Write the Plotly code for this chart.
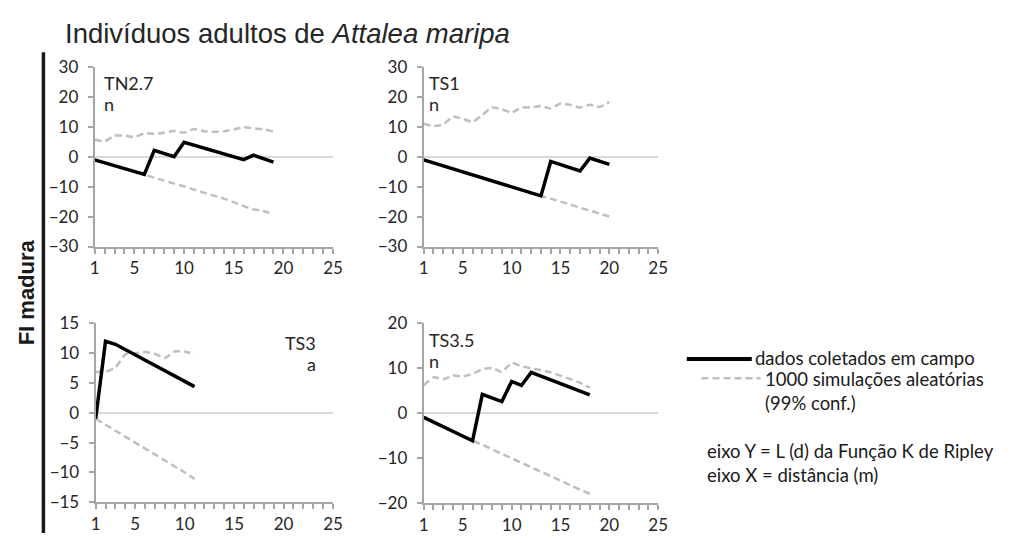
import plotly.graph_objects as go

W, H = 1013, 543

# ---- data: L(d) from Ripley's K, observed vs. 99% envelope of 1000 simulations ----
tn27_x = list(range(1, 20))
tn27_obs = [-1.1, -2.0, -3.0, -4.0, -5.0, -5.9, 2.1, 1.2, 0.0, 4.8, 3.8, 2.8, 1.8, 0.8, -0.1, -1.0, 0.5, -0.5, -1.8]
tn27_hi = [5.7, 5.1, 7.0, 7.0, 6.5, 7.8, 7.6, 8.0, 8.6, 8.0, 9.2, 8.5, 8.3, 8.5, 9.1, 9.8, 9.4, 9.1, 8.4]
tn27_lo = [-1.1, -2.0, -3.0, -4.0, -5.0, -6.0, -7.0, -8.0, -9.0, -9.9, -11.0, -12.0, -13.0, -14.0, -15.2, -16.5, -17.6, -18.2, -19.2]

ts1_x = list(range(1, 21))
ts1_obs = [-1.1, -2.1, -3.1, -4.1, -5.1, -6.1, -7.1, -8.1, -9.1, -10.1, -11.1, -12.1, -13.1, -1.6, -2.6, -3.6, -4.8, -0.5, -1.5, -2.6]
ts1_hi = [11.0, 10.2, 10.7, 13.4, 12.6, 11.6, 13.9, 16.4, 15.8, 14.7, 16.4, 16.4, 16.9, 16.1, 17.7, 17.3, 16.4, 17.3, 16.6, 18.3]
ts1_lo = [-1.1, -2.1, -3.1, -4.1, -5.1, -6.1, -7.1, -8.1, -9.1, -10.1, -11.1, -12.1, -13.1, -14.0, -15.0, -16.0, -17.0, -18.0, -19.0, -20.0]

ts3_x = list(range(1, 12))
ts3_obs = [-1.0, 12.0, 11.5, 10.6, 9.7, 8.8, 7.9, 7.0, 6.2, 5.3, 4.4]
ts3_hi = [6.9, 6.9, 7.6, 9.8, 10.0, 10.2, 9.9, 9.2, 10.3, 10.3, 9.8]
ts3_lo = [-1.0, -2.0, -3.0, -4.0, -5.0, -6.0, -7.0, -8.0, -9.0, -10.0, -11.1]

ts35_x = list(range(1, 19))
ts35_obs = [-0.9, -1.9, -3.0, -4.0, -5.1, -6.1, 4.2, 3.4, 2.6, 7.1, 6.2, 9.1, 8.3, 7.4, 6.6, 5.8, 4.9, 4.1]
ts35_hi = [6.2, 8.0, 7.6, 8.4, 8.2, 8.8, 9.8, 10.1, 9.2, 11.2, 10.5, 10.0, 9.6, 9.1, 8.4, 7.6, 6.8, 5.7]
ts35_lo = [-0.9, -1.9, -3.0, -4.0, -5.1, -6.1, -7.0, -8.0, -9.0, -10.0, -11.0, -12.0, -13.0, -14.0, -15.0, -16.0, -17.0, -17.9]

x_ticks = [1, 5, 10, 15, 20, 25]

panels = [
    # name, x, obs, hi, lo, y range, y step, label lines
    ("TN2.7", tn27_x, tn27_obs, tn27_hi, tn27_lo, (-30, 30), 10, ["TN2.7", "n"]),
    ("TS1", ts1_x, ts1_obs, ts1_hi, ts1_lo, (-30, 30), 10, ["TS1", "n"]),
    ("TS3", ts3_x, ts3_obs, ts3_hi, ts3_lo, (-15, 15), 5, ["TS3", "a"]),
    ("TS3.5", ts35_x, ts35_obs, ts35_hi, ts35_lo, (-20, 20), 10, ["TS3.5", "n"]),
]

# plot boxes in pixels: left, right, top, bottom
boxes = [(91, 333, 58, 245), (425, 663, 58, 245), (92, 333, 325, 511), (425, 663, 325, 512)]

TICK_FONT = dict(family="Lato, Calibri, sans-serif", size=17, color="#262626")
AXIS_COLOR = "#a6a6a6"
OBS_COLOR = "#000000"
SIM_COLOR = "#bfbfbf"

fig = go.Figure()
annotations = []
shapes = []

for i, (name, xs, obs, hi, lo, yr, ystep, label) in enumerate(panels):
    n = i + 1
    xa = "x" if n == 1 else f"x{n}"
    ya = "y" if n == 1 else f"y{n}"
    l, r, t, b = boxes[i]

    for env in (hi, lo):
        fig.add_trace(go.Scatter(
            x=xs, y=env, xaxis=xa, yaxis=ya, mode="lines",
            line=dict(color=SIM_COLOR, width=2.5, dash="7px,4px", shape="spline", smoothing=0.5),
            showlegend=False, hoverinfo="skip"))
    fig.add_trace(go.Scatter(
        x=xs, y=obs, xaxis=xa, yaxis=ya, mode="lines",
        line=dict(color=OBS_COLOR, width=3.5), showlegend=False))

    xkey = "xaxis" if n == 1 else f"xaxis{n}"
    ykey = "yaxis" if n == 1 else f"yaxis{n}"
    fig.update_layout({
        xkey: dict(
            domain=[l / W, r / W], anchor=ya, range=[1, 25],
            tickmode="array", tickvals=x_ticks, ticks="outside", ticklen=5,
            tickcolor=AXIS_COLOR, tickwidth=1.5,
            minor=dict(tick0=1, dtick=1, ticks="outside", ticklen=5, tickcolor=AXIS_COLOR, tickwidth=1.5),
            showline=True, linecolor=AXIS_COLOR, linewidth=2,
            showgrid=False, zeroline=False, tickfont=TICK_FONT, fixedrange=True),
        ykey: dict(
            domain=[1 - b / H, 1 - t / H], anchor=xa, range=list(yr), dtick=ystep,
            ticks="outside", ticklen=5, tickcolor=AXIS_COLOR, tickwidth=1.5,
            showline=True, linecolor=AXIS_COLOR, linewidth=2,
            showgrid=False, zeroline=True, zerolinecolor="#d9d9d9", zerolinewidth=1.5,
            tickfont=TICK_FONT, ticklabelstandoff=6, fixedrange=True),
    })

# panel labels
label_pos = {
    0: (98, 75, 97, "left"),
    1: (428, 75, 97, "left"),
    2: (318, 345, 367, "right"),
    3: (428, 342, 364, "left"),
}
for i, p in enumerate(panels):
    x0, y1, y2, anchor = label_pos[i]
    for txt, yy in zip(p[7], (y1, y2)):
        annotations.append(dict(
            x=x0 / W, y=1 - yy / H, xref="paper", yref="paper", text=txt,
            showarrow=False, xanchor=anchor, yanchor="middle",
            font=dict(family="Lato, Calibri, sans-serif", size=18, color="#262626")))

# title and side label
annotations.append(dict(
    x=59 / W, y=1 - 23 / H, xref="paper", yref="paper",
    text="Indivíduos adultos de <i>Attalea maripa</i>", showarrow=False,
    xanchor="left", yanchor="middle",
    font=dict(family="Liberation Sans, Arial, sans-serif", size=27.5, color="#262626")))
annotations.append(dict(
    x=22 / W, y=1 - 293 / H, xref="paper", yref="paper",
    text="<b>FI madura</b>", showarrow=False, textangle=-90,
    xanchor="center", yanchor="middle",
    font=dict(family="Liberation Sans, Arial, sans-serif", size=22, color="#1a1a1a")))

shapes.append(dict(type="line", xref="paper", yref="paper",
                   x0=39 / W, x1=39 / W, y0=1 - 43 / H, y1=0,
                   line=dict(color="#1a1a1a", width=3.5)))

# key
LEG_FONT = dict(family="Lato, Calibri, sans-serif", size=18.5, color="#1a1a1a")
shapes.append(dict(type="line", xref="paper", yref="paper",
                   x0=692 / W, x1=758 / W, y0=1 - 362 / H, y1=1 - 362 / H,
                   line=dict(color=OBS_COLOR, width=4)))
shapes.append(dict(type="line", xref="paper", yref="paper",
                   x0=707 / W, x1=767 / W, y0=1 - 382 / H, y1=1 - 382 / H,
                   line=dict(color=SIM_COLOR, width=2.5, dash="7px,4px")))
for txt, xx, yy in [
    ("dados coletados em campo", 760, 361),
    ("1000 simulações aleatórias<br>(99% conf.)", 770, 395),
    ("eixo Y = L (d) da Função K de Ripley<br>eixo X = distância (m)", 712, 470),
]:
    annotations.append(dict(
        x=xx / W, y=1 - yy / H, xref="paper", yref="paper", text=txt,
        showarrow=False, xanchor="left", yanchor="middle", align="left",
        borderpad=0, font=LEG_FONT))

fig.update_layout(
    width=W, height=H, margin=dict(l=0, r=0, t=0, b=0),
    paper_bgcolor="white", plot_bgcolor="white",
    annotations=annotations, shapes=shapes, showlegend=False,
)

fig.write_html("out.html", config={"displayModeBar": False})
